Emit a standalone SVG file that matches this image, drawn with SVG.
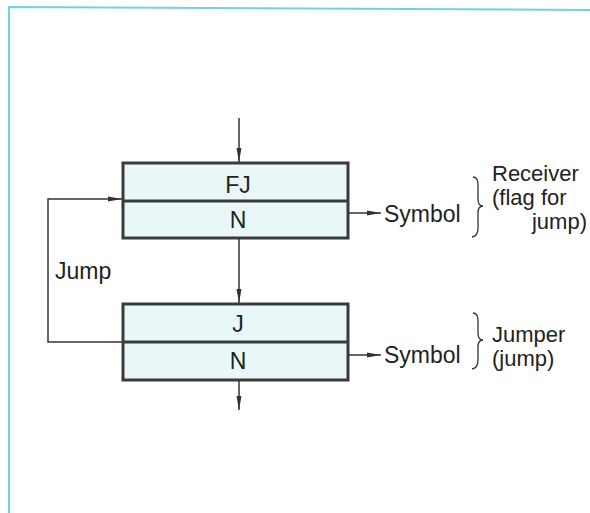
<svg xmlns="http://www.w3.org/2000/svg" width="590" height="513" viewBox="0 0 590 513">
<style>
.t{font-family:"Liberation Sans",Arial,sans-serif;font-size:23px;fill:#222}
.s{font-family:"Liberation Sans",Arial,sans-serif;font-size:22px;fill:#222}
.box{fill:#e9f7f9;stroke:#3a3a3a;stroke-width:3}
.div{stroke:#3a3a3a;stroke-width:3}
.ln{stroke:#333;stroke-width:1.5;fill:none}
.br{stroke:#333;stroke-width:1.3;fill:none}
</style>
<defs>
<marker id="ah" markerWidth="14" markerHeight="6" refX="14" refY="3" orient="auto" markerUnits="userSpaceOnUse">
<path d="M0,0.5 L14,3 L0,5.5 Z" fill="#333"/>
</marker>
</defs>
<rect width="590" height="513" fill="#fff"/>
<path d="M9,513 L9,7 L590,10" fill="none" stroke="#72d3dc" stroke-width="2"/>
<g id="receiver">
<rect class="box" x="123" y="163" width="225" height="75"/>
<line class="div" x1="123" y1="201" x2="348" y2="201"/>
<text class="t" x="238" y="193" text-anchor="middle">FJ</text>
<text class="t" x="238" y="228" text-anchor="middle">N</text>
</g>
<g id="jumper">
<rect class="box" x="123" y="304" width="225" height="76"/>
<line class="div" x1="123" y1="342" x2="348" y2="342"/>
<text class="t" x="238" y="332" text-anchor="middle">J</text>
<text class="t" x="238" y="369" text-anchor="middle">N</text>
</g>
<g id="connectors">
<line class="ln" x1="239" y1="118" x2="239" y2="162" marker-end="url(#ah)"/>
<line class="ln" x1="239" y1="239" x2="239" y2="303" marker-end="url(#ah)"/>
<line class="ln" x1="239" y1="381" x2="239" y2="410" marker-end="url(#ah)"/>
<polyline class="ln" points="122,342 48,342 48,199 122,199" marker-end="url(#ah)"/>
<line class="ln" x1="349" y1="213" x2="381" y2="213" marker-end="url(#ah)"/>
<line class="ln" x1="349" y1="355" x2="381" y2="355" marker-end="url(#ah)"/>
</g>
<g id="labels">
<text class="t" x="55" y="279">Jump</text>
<text class="t" x="384" y="222">Symbol</text>
<text class="t" x="384" y="363">Symbol</text>
<path class="br" d="M473,177 Q478,177 478,185 L478,199 Q478,206 483,206 Q478,206 478,213 L478,228 Q478,236 472,237"/>
<path class="br" d="M473,313 Q478,313 478,321 L478,333 Q478,340 483,340 Q478,340 478,347 L478,360 Q478,368 472,369"/>
<text class="s" x="492" y="181">Receiver</text>
<text class="s" x="492" y="205">(flag for</text>
<text class="s" x="587" y="229" text-anchor="end">jump)</text>
<text class="s" x="492" y="342">Jumper</text>
<text class="s" x="492" y="366">(jump)</text>
</g>
</svg>
